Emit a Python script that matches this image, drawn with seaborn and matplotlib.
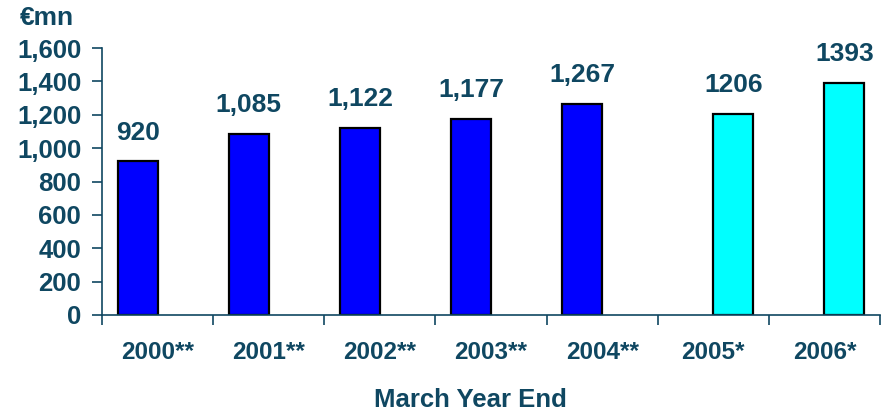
import matplotlib
matplotlib.use("Agg")
import matplotlib.pyplot as plt
import matplotlib.ticker as mticker
import seaborn as sns
import pandas as pd

years = ["2000**", "2001**", "2002**", "2003**", "2004**", "2005*", "2006*"]
values = [920, 1085, 1122, 1177, 1267, 1206, 1393]
kinds = ["actual", "actual", "actual", "actual", "actual", "forecast", "forecast"]
y_ticks = [0, 200, 400, 600, 800, 1000, 1200, 1400, 1600]

df = pd.DataFrame({"year": years, "value": values, "kind": kinds})

sns.set_style("white")
plt.rcParams["font.family"] = ["Liberation Sans", "DejaVu Sans"]
plt.rcParams["font.weight"] = "bold"

ink = "#0f4761"

fig = plt.figure(figsize=(8.82, 4.13), dpi=100)
ax = fig.add_axes([102 / 882, 1 - 315 / 413, 778 / 882, 267 / 413])

sns.barplot(
    data=df, x="year", y="value", hue="kind",
    hue_order=["actual", "forecast"],
    palette={"actual": "#0000ff", "forecast": "#00ffff"},
    saturation=1, width=0.72, dodge=True, edgecolor="black", linewidth=1.6,
    legend=False, ax=ax,
)

# value labels above each bar
for container, kind in zip(ax.containers, ["actual", "forecast"]):
    labs = []
    for bar in container:
        h = bar.get_height()
        if h != h or h == 0:
            labs.append("")
        else:
            labs.append(f"{int(h):,}" if kind == "actual" else f"{int(h)}")
    ax.bar_label(container, labels=labs, padding=12, fontsize=19,
                 fontweight="bold", color=ink, clip_on=False)

ax.set_xlim(-0.5, len(years) - 0.5)
ax.set_ylim(0, 1600)
ax.set_yticks(y_ticks)
ax.yaxis.set_major_formatter(mticker.FuncFormatter(lambda v, p: f"{int(v):,}"))

# category boundary tick marks, labels centred without marks
ax.set_xticks([i - 0.5 for i in range(len(years) + 1)], minor=True)
ax.tick_params(axis="x", which="major", length=0, pad=19, labelsize=17.5,
               labelcolor=ink)
ax.tick_params(axis="x", which="minor", length=7, width=1.2, color=ink,
               direction="out", bottom=True)
ax.tick_params(axis="y", length=7, width=1.2, color=ink, direction="out",
               left=True, pad=8, labelsize=18.5, labelcolor=ink)
for lab in ax.get_xticklabels() + ax.get_yticklabels():
    lab.set_fontweight("bold")

for side in ["top", "right"]:
    ax.spines[side].set_visible(False)
for side in ["left", "bottom"]:
    ax.spines[side].set_color(ink)
    ax.spines[side].set_linewidth(1.2)

ax.set_ylabel("")
ax.set_xlabel("March Year End", fontsize=18.5, fontweight="bold", color=ink)
ax.xaxis.set_label_coords(0.473, -0.275)
ax.xaxis.label.set_verticalalignment("top")

fig.text(20 / 882, 1 - 18 / 413, "€mn", fontsize=19, fontweight="bold",
         color=ink, ha="left", va="center")

fig.savefig("out.png", dpi=100)
